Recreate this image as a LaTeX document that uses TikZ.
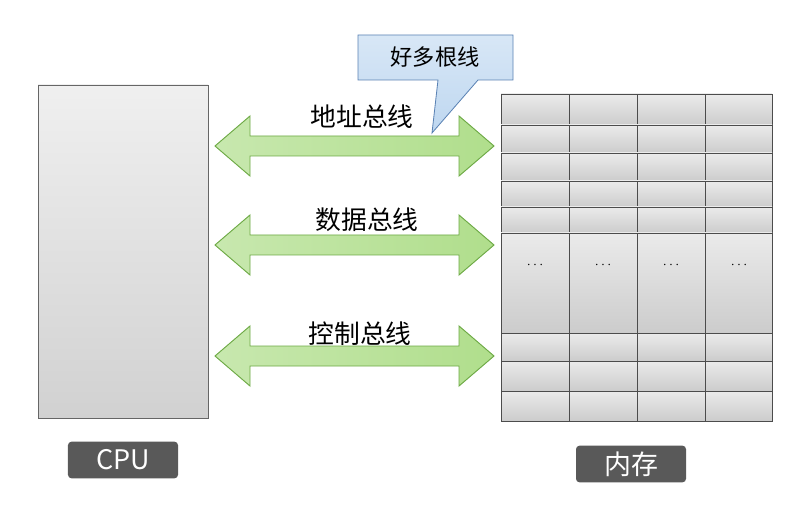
\documentclass[tikz,border=0pt]{standalone}
\usepackage{fontspec}
\setmainfont{Noto Sans CJK SC}
\usetikzlibrary{positioning}
\definecolor{busfill}{RGB}{176,222,140}
\definecolor{busline}{RGB}{110,170,70}
\definecolor{tagfill}{RGB}{89,89,89}
\definecolor{tipfill}{RGB}{190,215,240}
\definecolor{tipline}{RGB}{90,130,180}
\tikzset{
  tag/.style={fill=tagfill, rounded corners=3pt, text=white, font=\fontsize{23}{26}\selectfont,
    minimum width=3.3cm, minimum height=1.1cm, inner sep=0pt},
  buslabel/.style={font=\fontsize{22}{26}\selectfont, inner sep=0pt},
  cell/.style={draw=black!70, line width=0.8pt, top color=black!8, bottom color=black!20}
}
\newcommand{\bus}[1]{%
  \draw[busline, line width=0.8pt, left color=busfill!70, right color=busfill]
    (215,#1) -- (250,#1-30) -- (250,#1-10) -- (459,#1-10) -- (459,#1-30)
    -- (494,#1) -- (459,#1+30) -- (459,#1+10) -- (250,#1+10) -- (250,#1+30) -- cycle;}
\begin{document}
\begin{tikzpicture}[x=0.03cm, y=-0.03cm]
  \useasboundingbox[fill=white] (0,0) rectangle (802,508);
  % CPU
  \draw[black!60, top color=black!6, bottom color=black!18] (38,85) rectangle (208,418);
  \node[tag] (cpu) at (123,460) {CPU};
  % memory
  \foreach \ya/\yb in {94/125,125/153,153/181,181/207,207/233,233/333,333/361,361/391,391/421}
    \foreach \xa/\xb in {501/569,569/637,637/705,705/772}
      \draw[cell] (\xa,\ya) rectangle (\xb,\yb);
  \foreach \xc in {535,603,671,739}
    \node[font=\large] at (\xc,265) {$\cdots$};
  \node[tag] (mem) at (631,464) {内存};
  % buses
  \bus{146}
  \bus{245}
  \bus{356}
  \node[buslabel] (addr) at (362,117) {地址总线};
  \node[buslabel] (data) at (367,220) {数据总线};
  \node[buslabel] (ctrl) at (360,334) {控制总线};
  % callout
  \draw[tipline, line width=0.7pt, top color=tipfill!60, bottom color=tipfill]
    (358,35) -- (513,35) -- (513,80) -- (478,80) -- (432,133) -- (438,80) -- (358,80) -- cycle;
  \node[buslabel, font=\fontsize{19}{22}\selectfont] (tip) at (435,57) {好多根线};
\end{tikzpicture}
\end{document}
